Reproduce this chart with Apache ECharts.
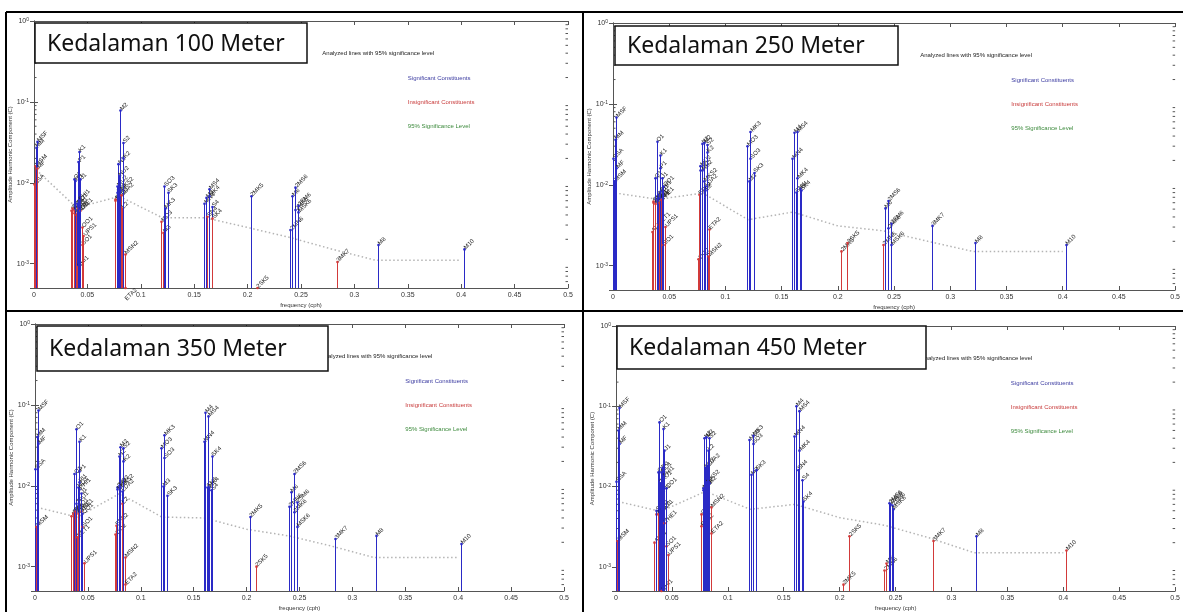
<!DOCTYPE html>
<html>
<head>
<meta charset="utf-8">
<script src="https://cdn.jsdelivr.net/npm/echarts@6/dist/echarts.min.js"></script>
<style>
html, body { margin: 0; padding: 0; background: #fff; }
#main { width: 1183px; height: 612px; }
</style>
</head>
<body>
<div id="main"></div>
<script>
// tidal constituents (t_tide style) and their frequencies (cph)
var names = ['SSA','MSM','MM','MSF','MF',
  'ALP1','2Q1','SIG1','Q1','RHO1','O1','TAU1','BET1','NO1','CHI1','PI1','P1','K1','PHI1','THE1','J1','SO1','OO1','UPS1',
  'OQ2','EPS2','2N2','MU2','N2','NU2','M2','MKS2','LDA2','L2','S2','K2','MSN2','ETA2',
  'MO3','M3','SO3','MK3','SK3',
  'MN4','M4','SN4','MS4','MK4','S4','SK4',
  '2MK5','2SK5',
  '2MN6','M6','2MS6','2MK6','2SM6','MSK6',
  '3MK7','M8','M10'];
var freqs = [0.0002282,0.0013098,0.0015122,0.0028219,0.0030501,
  0.0343966,0.0357064,0.0359087,0.0372185,0.0374209,0.0387307,0.0389588,0.0400404,0.0402686,0.0404710,0.0414385,0.0415526,0.0417807,0.0420089,0.0430905,0.0432929,0.0446027,0.0448308,0.0463430,
  0.0759749,0.0761773,0.0774871,0.0776895,0.0789992,0.0792016,0.0805114,0.0807396,0.0818212,0.0820236,0.0833333,0.0835615,0.0848455,0.0850736,
  0.1192421,0.1207671,0.1220640,0.1222921,0.1251141,
  0.1595106,0.1610228,0.1623326,0.1638447,0.1640729,0.1666667,0.1668948,
  0.2028035,0.2084474,
  0.2400221,0.2415342,0.2443561,0.2445843,0.2471781,0.2474062,
  0.2833149,0.3220456,0.4025570];

// amplitudes
var amp100 = [0.0095,0.016,0.027,0.032,0.015,
  0.0045,0.0042,0.0048,0.011,0.0045,0.0105,0.004,0.0042,0.0055,0.0009,0.0048,0.018,0.024,0.006,0.0045,0.011,0.0017,0.0028,0.0022,
  0.006,0.0062,0.0075,0.009,0.017,0.012,0.078,0.008,0.007,0.0048,0.031,0.02,0.0013,0.00035,
  0.0033,0.0024,0.009,0.0048,0.0075,
  0.0055,0.0065,0.0038,0.0083,0.0068,0.005,0.0036,
  0.0068,0.0005,
  0.0026,0.0068,0.0087,0.0046,0.0052,0.0043,
  0.00105,0.0017,0.0015];
var insig100 = ['SSA','MSM','MF','ALP1','2Q1','SIG1','RHO1','TAU1','BET1','CHI1','PI1','THE1','SO1','OO1','UPS1',
  'OQ2','EPS2','LDA2','L2','MSN2','ETA2','MO3','M3','SN4','SK4','2SK5','3MK7'];

var amp250 = [0.021,0.011,0.036,0.068,0.016,
  0.0026,0.006,0.0062,0.012,0.0058,0.034,0.0065,0.0032,0.0075,0.006,0.0068,0.016,0.023,0.0082,0.0065,0.012,0.0018,0.0095,0.003,
  0.0012,0.0075,0.015,0.017,0.032,0.015,0.033,0.011,0.0095,0.0085,0.031,0.025,0.0013,0.0028,
  0.030,0.011,0.021,0.045,0.014,
  0.021,0.044,0.008,0.045,0.012,0.009,0.0085,
  0.0015,0.0019,
  0.0018,0.0051,0.0063,0.0029,0.0033,0.0018,
  0.0031,0.0019,0.0018];
var insig250 = ['ALP1','2Q1','SIG1','RHO1','BET1','CHI1','THE1','SO1','UPS1','OQ2','EPS2','MSN2','ETA2','2MK5','2SK5','2MN6'];

var amp350 = [0.016,0.0031,0.04,0.085,0.033,
  0.0042,0.0045,0.0045,0.014,0.0048,0.05,0.006,0.0023,0.0095,0.0045,0.011,0.015,0.035,0.009,0.0048,0.008,0.0031,0.0045,0.0011,
  0.0025,0.0032,0.0095,0.009,0.023,0.01,0.03,0.0095,0.0085,0.006,0.029,0.02,0.0013,0.0006,
  0.029,0.0098,0.022,0.042,0.0075,
  0.035,0.08,0.0095,0.072,0.0095,0.0088,0.023,
  0.0041,0.001,
  0.0055,0.0083,0.014,0.0047,0.0062,0.0031,
  0.0022,0.0024,0.0019];
var insig350 = ['MSM','ALP1','2Q1','SIG1','RHO1','BET1','CHI1','THE1','SO1','UPS1','OQ2','EPS2','L2','MSN2','ETA2','2SK5'];

var amp450 = [0.0115,0.0021,0.05,0.095,0.034,
  0.002,0.0045,0.005,0.015,0.0045,0.063,0.011,0.0048,0.015,0.0005,0.0085,0.017,0.052,0.013,0.0035,0.028,0.0018,0.0095,0.0014,
  0.0045,0.0032,0.009,0.0095,0.04,0.017,0.041,0.011,0.018,0.028,0.04,0.011,0.0055,0.0026,
  0.038,0.014,0.034,0.043,0.016,
  0.042,0.1,0.016,0.087,0.028,0.012,0.0065,
  0.0006,0.0024,
  0.0009,0.0011,0.0062,0.006,0.0058,0.0052,
  0.0021,0.0024,0.0016];
var insig450 = ['MSM','ALP1','2Q1','RHO1','CHI1','THE1','SO1','UPS1','OQ2','EPS2','MSN2','ETA2','2MK5','2SK5','2MN6','M6','3MK7','M10'];

// 95% significance level (dotted)
var sigFreq = [0.002, 0.04, 0.08, 0.12, 0.16, 0.2, 0.24, 0.28, 0.32, 0.4];
var sig100 = [0.0145, 0.0049, 0.0068, 0.0037, 0.0037, 0.0028, 0.0021, 0.0015, 0.0011, 0.0011];
var sig250 = [0.0079, 0.0066, 0.0079, 0.0037, 0.0046, 0.0031, 0.0027, 0.0020, 0.0015, 0.0015];
var sig350 = [0.0054, 0.0041, 0.0080, 0.0041, 0.0040, 0.0029, 0.0024, 0.0018, 0.0013, 0.0013];
var sig450 = [0.0065, 0.0049, 0.0087, 0.0052, 0.0060, 0.0041, 0.0033, 0.0023, 0.0015, 0.0015];

// log-axis minor ticks (2..9 x 10^n)
var minorTicks = [0.0006,0.0007,0.0008,0.0009,
  0.002,0.003,0.004,0.005,0.006,0.007,0.008,0.009,
  0.02,0.03,0.04,0.05,0.06,0.07,0.08,0.09,
  0.2,0.3,0.4,0.5,0.6,0.7,0.8,0.9];

var yMin = 0.0005, yMax = 1;
var BLUE = '#2a2ac6', RED = '#d23a3a';
var FONT = 'Liberation Sans';

var panels = [
  { title: 'Kedalaman 100 Meter', amp: amp100, insig: insig100, sig: sig100,
    grid: { left: 34, top: 21, width: 534, height: 267 }, box: [35, 23, 272, 40],
    yName: 'Amplitude Harmonic Component (C)' },
  { title: 'Kedalaman 250 Meter', amp: amp250, insig: insig250, sig: sig250,
    grid: { left: 613, top: 23, width: 569, height: 267 }, box: [615, 26, 283, 39],
    yName: 'Amplitude Harmonic Component (C)' },
  { title: 'Kedalaman 350 Meter', amp: amp350, insig: insig350, sig: sig350,
    grid: { left: 35, top: 324, width: 529, height: 274 }, box: [37, 326, 291, 45],
    yName: 'Amplitude Harmonic Component (C)' },
  { title: 'Kedalaman 450 Meter', amp: amp450, insig: insig450, sig: sig450,
    grid: { left: 616, top: 326, width: 564, height: 266 }, box: [617, 326, 309, 43],
    yName: 'Amplitude Harmonic Componet (C)' }
];

function stemRenderer(p) {
  return function (params, api) {
    var i = params.dataIndex;
    var f = api.value(0), a = api.value(1);
    var base = api.coord([f, yMin]);
    var top = api.coord([f, Math.max(a, yMin)]);
    var tip = api.coord([f, a]);
    var x = Math.round(base[0]) + 0.5;   // keep 1px stems crisp
    var col = p.insig.indexOf(names[i]) >= 0 ? RED : BLUE;
    return {
      type: 'group',
      children: [
        { type: 'line', shape: { x1: x, y1: base[1], x2: x, y2: top[1] },
          style: { stroke: col, lineWidth: 1 } },
        { type: 'circle', shape: { cx: x, cy: top[1], r: 1.3 }, style: { fill: col } },
        { type: 'text', x: tip[0] + 1, y: tip[1] - 1, rotation: Math.PI / 4,
          style: { text: names[i], fill: '#222', font: '6px ' + FONT, textAlign: 'left', textVerticalAlign: 'middle' } }
      ]
    };
  };
}

function minorRenderer(params, api) {
  var v = api.value(1);
  var l = api.coord([0, v]);
  var r = api.coord([0.5, v]);
  return {
    type: 'group',
    children: [
      { type: 'line', shape: { x1: l[0], y1: l[1], x2: l[0] + 2.5, y2: l[1] }, style: { stroke: '#555', lineWidth: 1 } },
      { type: 'line', shape: { x1: r[0], y1: r[1], x2: r[0] - 2.5, y2: r[1] }, style: { stroke: '#555', lineWidth: 1 } }
    ]
  };
}

var grids = [], xAxes = [], yAxes = [], series = [], graphics = [];

panels.forEach(function (p, k) {
  grids.push(p.grid);
  var axisLine = { lineStyle: { color: '#555', width: 1 } };
  // bottom / left real axes
  xAxes.push({
    type: 'value', gridIndex: k, min: 0, max: 0.5, interval: 0.05,
    axisLine: axisLine, axisTick: { inside: true, length: 4, lineStyle: { color: '#555' } },
    axisLabel: { fontSize: 7, color: '#333', margin: 4, fontFamily: FONT },
    splitLine: { show: false },
    name: 'frequency (cph)', nameLocation: 'middle', nameGap: 14,
    nameTextStyle: { fontSize: 6, color: '#333', fontFamily: FONT }
  });
  yAxes.push({
    type: 'log', logBase: 10, gridIndex: k, min: yMin, max: yMax,
    axisLine: axisLine, axisTick: { inside: true, length: 4, lineStyle: { color: '#555' } },
    axisLabel: {
      showMinLabel: false, margin: 5,
      formatter: function (v) { return '{b|10}{s|' + Math.round(Math.log10(v)) + '}'; },
      rich: {
        b: { fontSize: 7, color: '#333', fontFamily: FONT },
        s: { fontSize: 5, color: '#333', fontFamily: FONT, verticalAlign: 'top' }
      }
    },
    splitLine: { show: false },
    name: p.yName, nameLocation: 'middle', nameGap: 20, nameRotate: 90,
    nameTextStyle: { fontSize: 6, color: '#333', fontFamily: FONT }
  });
  // top / right box axes
  xAxes.push({
    type: 'value', gridIndex: k, min: 0, max: 0.5, interval: 0.05, position: 'top',
    axisLine: axisLine, axisTick: { inside: true, length: 4, lineStyle: { color: '#555' } },
    axisLabel: { show: false }, splitLine: { show: false }
  });
  yAxes.push({
    type: 'log', logBase: 10, gridIndex: k, min: yMin, max: yMax, position: 'right',
    axisLine: axisLine, axisTick: { inside: true, length: 4, lineStyle: { color: '#555' } },
    axisLabel: { show: false }, splitLine: { show: false }
  });

  series.push({
    type: 'custom', xAxisIndex: 2 * k, yAxisIndex: 2 * k, clip: false, silent: true,
    data: minorTicks.map(function (v) { return [0, v]; }),
    renderItem: minorRenderer
  });
  series.push({
    type: 'line', xAxisIndex: 2 * k, yAxisIndex: 2 * k, silent: true, symbol: 'none',
    data: sigFreq.map(function (f, i) { return [f, p.sig[i]]; }),
    lineStyle: { color: '#b4b4b4', width: 1.5, type: [1.5, 2.5] }, z: 1
  });
  series.push({
    type: 'custom', xAxisIndex: 2 * k, yAxisIndex: 2 * k, clip: false, silent: true,
    data: freqs.map(function (f, i) { return [f, p.amp[i]]; }),
    encode: { x: 0, y: 1 },
    renderItem: stemRenderer(p), z: 3
  });

  // title box
  var g = p.grid;
  graphics.push({
    type: 'rect', shape: { x: p.box[0], y: p.box[1], width: p.box[2], height: p.box[3] },
    style: { fill: '#fff', stroke: '#111', lineWidth: 1.5 }, z: 100
  });
  graphics.push({
    type: 'text', x: p.box[0] + 12, y: p.box[1] + p.box[3] / 2 + 1, z: 101,
    style: { text: p.title, font: '23px "Noto Sans"', fill: '#111', textVerticalAlign: 'middle' }
  });
  // in-plot annotations
  var ax = g.left + g.width * 0.54, lx = g.left + g.width * 0.70;
  var notes = [
    ['Analyzed lines with 95% significance level', ax, 32, '#222'],
    ['Significant Constituents', lx, 57, '#3a3aa0'],
    ['Insignificant Constituents', lx, 81, '#c83a3a'],
    ['95% Significance Level', lx, 105, '#3c8a3c']
  ];
  notes.forEach(function (n) {
    graphics.push({
      type: 'text', x: n[1], y: g.top + n[2], z: 90,
      style: { text: n[0], font: '6px ' + FONT, fill: n[3], textVerticalAlign: 'middle' }
    });
  });
});

// panel frame lines
[[6, 12, 1183, 12], [6, 311, 1183, 311], [6, 12, 6, 612], [583, 12, 583, 612]].forEach(function (l) {
  graphics.push({ type: 'line', shape: { x1: l[0], y1: l[1], x2: l[2], y2: l[3] },
    style: { stroke: '#000', lineWidth: 2 }, z: 110 });
});

var myChart = echarts.init(document.getElementById('main'));
myChart.setOption({
  animation: false,
  backgroundColor: '#fff',
  grid: grids,
  xAxis: xAxes,
  yAxis: yAxes,
  series: series,
  graphic: graphics
});
</script>
</body>
</html>
